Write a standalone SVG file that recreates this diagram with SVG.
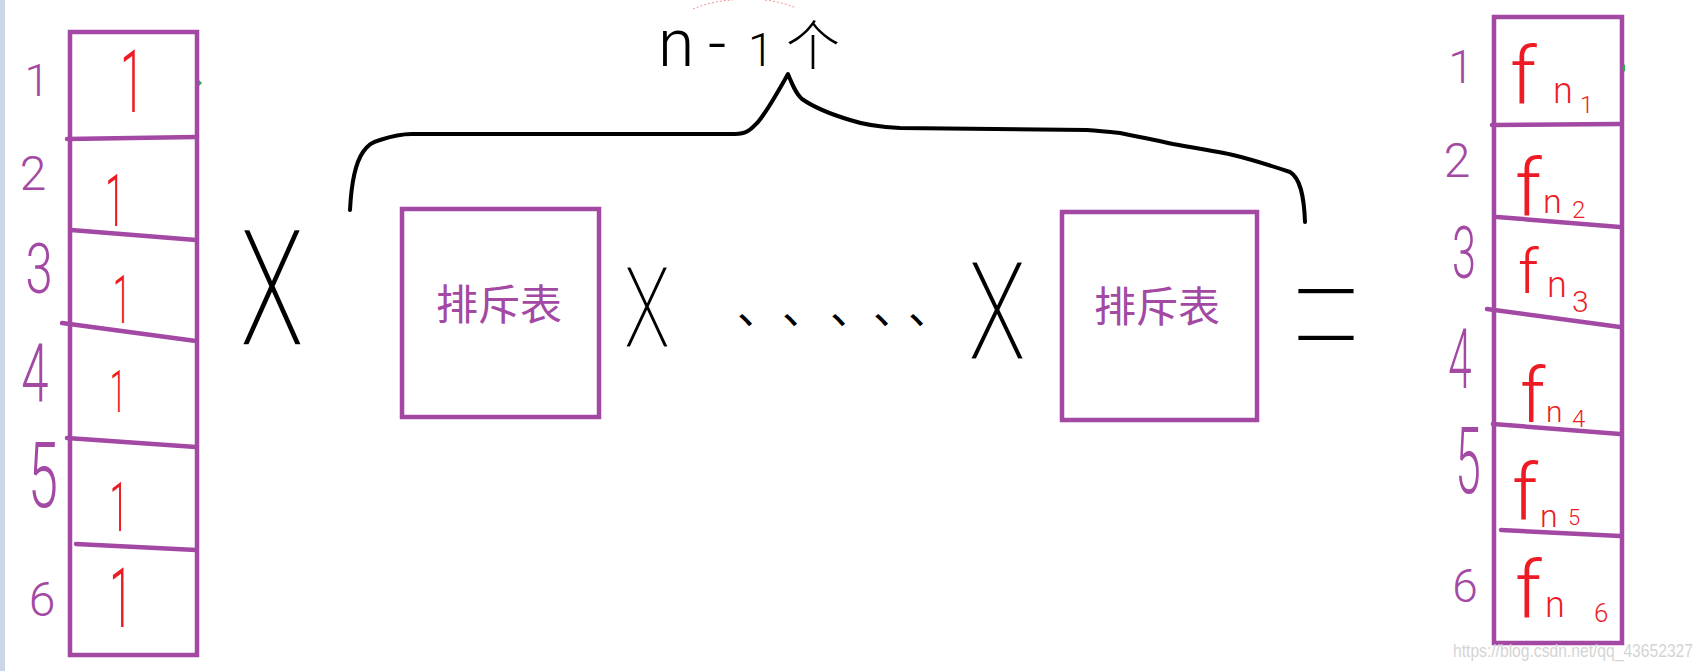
<svg xmlns="http://www.w3.org/2000/svg" width="1705" height="671" viewBox="0 0 1705 671">
<style>
.pl{stroke:#a349a4;stroke-width:4.5;fill:none;stroke-linecap:round}
.hw{font-family:Roboto,"Liberation Sans",sans-serif;font-weight:300}
.cjk{font-family:"Noto Sans CJK SC",sans-serif}
.pu{fill:#a349a4}
.rd{fill:#ed1c24}
.bk{fill:#000}
.mid{text-anchor:middle}
.er{stroke:#fff}
.brace{fill:none;stroke:#000;stroke-width:4;stroke-linecap:round;stroke-linejoin:round}
</style>
<rect x="0" y="0" width="1705" height="671" fill="#fff"/>
<rect x="0" y="0" width="5" height="671" fill="#cdd6e6"/>

<g id="left-table">
<rect class="pl" x="70" y="32" width="127" height="623"/>
<path class="pl" d="M67,139 L197,137 M71,230 L196,240 M62,323 L196,341 M67,438 L196,447 M76,544 L196,550"/>
<polygon points="199,80 202,83 199,86" fill="#22b14c"/>
<g class="hw pu mid">
<text x="37" y="96" font-size="45">1</text>
<text x="33" y="190" font-size="48">2</text>
<text transform="translate(39,293) scale(0.7,1)" font-size="70">3</text>
<text transform="translate(35,402) scale(0.6,1)" font-size="82">4</text>
<text transform="translate(43,507) scale(0.6,1)" font-size="90">5</text>
<text x="42" y="616" font-size="48">6</text>
</g>
<g class="hw rd mid">
<text transform="translate(132,112) scale(0.5,1)" font-size="87">1</text>
<text transform="translate(115,226) scale(0.5,1)" font-size="72">1</text>
<text transform="translate(122,323) scale(0.5,1)" font-size="66">1</text>
<text transform="translate(118,412) scale(0.5,1)" font-size="59">1</text>
<text transform="translate(119,531) scale(0.5,1)" font-size="68">1</text>
<text transform="translate(121,627) scale(0.5,1)" font-size="84">1</text>
</g>
</g>

<g id="box1">
<rect class="pl" x="402" y="209" width="197" height="208"/>
<text class="cjk pu mid" x="499" y="320" font-size="42">排斥表</text>
</g>

<g id="box2">
<rect class="pl" x="1062" y="212" width="195" height="208"/>
<text class="cjk pu mid" x="1157" y="322" font-size="42">排斥表</text>
</g>

<g id="operators">
<text class="hw bk mid er" stroke-width="2" transform="translate(272,346) scale(1.1,1.66)" font-size="100">X</text>
<text class="hw bk mid er" stroke-width="2" transform="translate(647,348) scale(1.0,1.44)" font-size="80">X</text>
<text class="hw bk mid er" stroke-width="2" transform="translate(997,360) scale(1.1,1.55)" font-size="90">X</text>
<text class="cjk bk" x="737 782 830 873 908" y="324" font-size="44">、、、、、</text>
<text class="hw bk mid er" stroke-width="2.7" transform="translate(1326,391) scale(1.85,2.91)" font-size="80">=</text>
</g>

<g id="connectors">
<path class="brace" d="M350,210 C351,190 354,165 363,152 C368,145 372,142 380,140 C392,136 400,134 412,134 L735,134 C748,134 752,128 758,122 C768,110 780,88 788,74 C792,84 796,94 802,99 C812,106 830,114 850,120 C865,125 877,127 900,128 L1087,130 C1100,131 1110,132 1120,133 C1140,137 1160,141 1173,144 C1200,149 1220,152 1233,155 C1250,159 1275,167 1290,172 C1300,178 1304,195 1305,222"/>
<path d="M693,9 Q712,1 733,0 M765,0 Q782,2 796,8" fill="none" stroke="#ed1c24" stroke-opacity="0.5" stroke-width="1" stroke-dasharray="2 2"/>
</g>

<g id="count-label">
<text class="hw bk" y="66"><tspan x="658" font-size="66">n</tspan><tspan x="708" font-size="64">-</tspan><tspan x="748" font-size="46">1</tspan><tspan class="cjk" x="786" font-size="54">个</tspan></text>
</g>

<g id="right-table">
<rect class="pl" x="1494" y="17" width="128" height="626"/>
<path class="pl" d="M1492,125 L1620,124 M1497,217 L1620,227 M1487,309 L1620,327 M1493,424 L1620,434 M1501,530 L1620,536"/>
<polygon points="1625,64 1622,68 1625,72" fill="#22b14c"/>
<g class="hw pu mid">
<text x="1461" y="83" font-size="46">1</text>
<text x="1457" y="177" font-size="48">2</text>
<text transform="translate(1464,278) scale(0.6,1)" font-size="72">3</text>
<text transform="translate(1460,388) scale(0.5,1)" font-size="84">4</text>
<text transform="translate(1468,493) scale(0.5,1)" font-size="92">5</text>
<text x="1465" y="602" font-size="46">6</text>
</g>
<g class="hw rd">
<text><tspan x="1510" y="103" font-size="80">f</tspan><tspan x="1553" y="103" font-size="36">n</tspan><tspan x="1580" y="113" font-size="24">1</tspan></text>
<text><tspan x="1515" y="215" font-size="80">f</tspan><tspan x="1543" y="213" font-size="34">n</tspan><tspan x="1572" y="218" font-size="24">2</tspan></text>
<text><tspan x="1518" y="293" font-size="62">f</tspan><tspan x="1547" y="297" font-size="36">n</tspan><tspan x="1572" y="312" font-size="30">3</tspan></text>
<text><tspan x="1520" y="422" font-size="76">f</tspan><tspan x="1546" y="422" font-size="30">n</tspan><tspan x="1572" y="427" font-size="24">4</tspan></text>
<text><tspan x="1512" y="520" font-size="78">f</tspan><tspan x="1540" y="527" font-size="32">n</tspan><tspan x="1568" y="525" font-size="22">5</tspan></text>
<text><tspan x="1515" y="617" font-size="80">f</tspan><tspan x="1545" y="617" font-size="36">n</tspan><tspan x="1594" y="622" font-size="26">6</tspan></text>
</g>
</g>

<text x="1453" y="657" font-family="Liberation Sans, sans-serif" font-size="19" fill="#d4d4d4" textLength="240" lengthAdjust="spacingAndGlyphs">https://blog.csdn.net/qq_43652327</text>
</svg>
